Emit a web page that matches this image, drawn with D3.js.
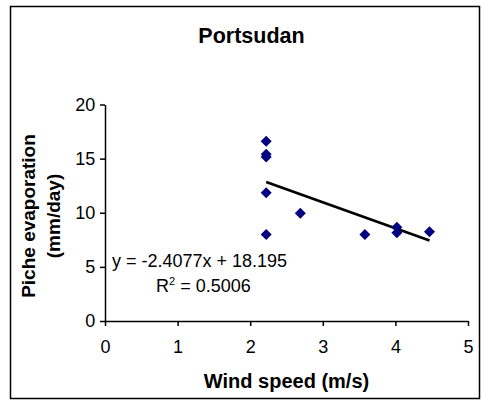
<!DOCTYPE html>
<html>
<meta charset="utf-8">
<head>
  <title>Portsudan</title>
</head>

<style>
body {
  margin: 0;
  background: #fff;
}
text {
  font-family: "Liberation Sans", Arial, sans-serif;
  fill: #000;
}
.axis path, .axis line {
  stroke: #000;
  stroke-width: 1.5px;
}
.axis text {
  font-size: 18px;
}
</style>

<body>
  <svg width="482" height="401"></svg>

  <script src="https://cdnjs.cloudflare.com/ajax/libs/d3/7.8.5/d3.min.js"></script>

  <script>
// data
var windSpeed   = [2.22, 2.22, 2.22, 2.22, 2.22, 2.69, 3.58, 4.02, 4.02, 4.47]
var evaporation = [16.6, 15.4, 15.15, 11.85, 8.0, 9.95, 8.0, 8.65, 8.15, 8.25]
var xTicks = [0, 1, 2, 3, 4, 5]
var yTicks = [0, 5, 10, 15, 20]
// linear trendline as printed on the chart
var slope = -2.4077, intercept = 18.195
var eqLabel = 'y = -2.4077x + 18.195'

var svg = d3.select('svg')

// outer frame
svg.append('rect')
  .attr('x', 10.5).attr('y', 6.5)
  .attr('width', 469).attr('height', 392)
  .attr('fill', 'none')
  .attr('stroke', '#000')
  .attr('stroke-width', 1.5)

var x = d3.scaleLinear().domain([0, 5]).range([105, 468])
var y = d3.scaleLinear().domain([0, 20]).range([321, 104.5])

svg.append('g')
  .attr('class', 'axis')
  .attr('transform', 'translate(0,321)')
  .call(d3.axisBottom(x).tickValues(xTicks).tickFormat(d3.format('d')).tickSize(5).tickSizeOuter(0))
  .selectAll('text').attr('dy', '1.35em')

svg.append('g')
  .attr('class', 'axis')
  .attr('transform', 'translate(105,0)')
  .call(d3.axisLeft(y).tickValues(yTicks).tickFormat(d3.format('d')).tickSize(5).tickSizeOuter(0))
  .selectAll('text').attr('dx', '-0.1em')

// trendline over the span of the data
var xr = d3.extent(windSpeed)
svg.append('line')
  .attr('x1', x(xr[0])).attr('y1', y(slope * xr[0] + intercept))
  .attr('x2', x(xr[1])).attr('y2', y(slope * xr[1] + intercept))
  .attr('stroke', '#000')
  .attr('stroke-width', 2.7)

// diamond markers
var pts = windSpeed.map(function(d, i) { return {x: d, y: evaporation[i]} })
svg.append('g').selectAll('path')
  .data(pts)
  .enter()
  .append('path')
  .attr('d', 'M0,-5.5L5.5,0L0,5.5L-5.5,0Z')
  .attr('transform', function(d) {
    return 'translate(' + x(d.x) + ',' + y(d.y) + ')'
  })
  .attr('fill', '#000080')

// title
svg.append('text')
  .attr('x', 251.5).attr('y', 43)
  .attr('text-anchor', 'middle')
  .style('font-size', '21.5px')
  .style('font-weight', 'bold')
  .text('Portsudan')

// x axis title
svg.append('text')
  .attr('x', 286.5).attr('y', 388)
  .attr('text-anchor', 'middle')
  .style('font-size', '20px')
  .style('font-weight', 'bold')
  .text('Wind speed (m/s)')

// y axis title, two lines
var yt = svg.append('text')
  .attr('transform', 'translate(35,216) rotate(-90)')
  .attr('text-anchor', 'middle')
  .style('font-size', '19px')
  .style('font-weight', 'bold')
yt.append('tspan').attr('x', 0).attr('y', 0).text('Piche evaporation')
yt.append('tspan').attr('x', 0).attr('y', 25).text('(mm/day)')

// equation and R squared
svg.append('text')
  .attr('x', 112).attr('y', 267)
  .style('font-size', '18px')
  .text(eqLabel)

var r2 = svg.append('text')
  .attr('x', 156).attr('y', 292)
  .style('font-size', '18px')
r2.append('tspan').text('R')
r2.append('tspan').attr('dy', -7).style('font-size', '11px').text('2')
r2.append('tspan').attr('dy', 7).text(' = 0.5006')
  </script>
</body>
</html>
